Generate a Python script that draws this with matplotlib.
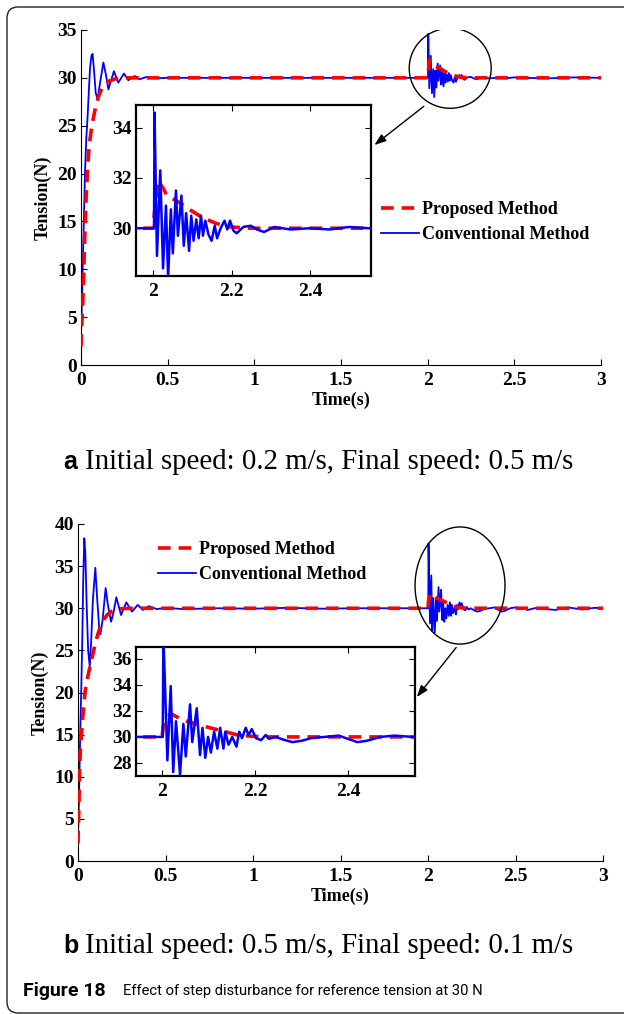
import matplotlib
matplotlib.use('Agg')
from matplotlib import pyplot as plt
from matplotlib import patches
from matplotlib.ticker import FuncFormatter

# ---- (a) initial speed 0.2 m/s, final speed 0.5 m/s ----
t_prop_a = [0, 0.005, 0.013, 0.02, 0.029, 0.038, 0.048, 0.06, 0.071, 0.085, 0.1, 0.12,
            0.14, 0.167, 0.2, 0.24, 0.3, 2.0, 2.003, 2.012, 2.025, 2.035, 2.069, 2.099,
            2.128, 2.163, 2.197, 2.25, 3.0]
y_prop_a = [1.9, 4.5, 7.8, 12.5, 17.2, 20.5, 23.1, 24.6, 25.8, 27.0, 28.0, 28.9,
            29.4, 29.7, 29.9, 30.0, 30.0, 30.0, 30.6, 31.9, 31.6, 31.3, 31.0, 30.68,
            30.4, 30.18, 30.05, 30.0, 30.0]

t_conv_a = [0, 0.005, 0.01, 0.017, 0.023, 0.03, 0.037, 0.045, 0.052, 0.06, 0.067, 0.075,
            0.085, 0.096, 0.11, 0.129, 0.143, 0.158, 0.175, 0.19, 0.215, 0.248, 0.273,
            0.31, 0.337, 0.379, 0.42, 0.5, 1.0, 1.5, 2.0,
            2.002, 2.0034, 2.0095, 2.018, 2.025, 2.0325, 2.038, 2.045, 2.05, 2.058, 2.063,
            2.072, 2.078, 2.084, 2.0915, 2.097, 2.103, 2.11, 2.116, 2.122, 2.127, 2.133,
            2.141, 2.149, 2.157, 2.163, 2.172, 2.182, 2.189, 2.196, 2.205, 2.213, 2.23,
            2.249, 2.265, 2.283, 2.309, 2.35, 2.4, 2.45, 2.5, 2.55, 2.7, 2.85, 3.0]
y_conv_a = [3.0, 6.5, 10.3, 15.5, 20.0, 23.5, 25.6, 28.5, 31.0, 32.3, 32.5, 30.8,
            28.4, 27.8, 29.5, 31.6, 30.4, 28.8, 29.8, 30.7, 29.5, 30.45, 29.75,
            30.2, 29.85, 30.1, 29.95, 30.0, 30.0, 30.0, 30.0,
            30.0, 34.6, 28.9, 32.3, 28.4, 30.9, 28.0, 30.75, 29.0, 31.5, 29.7,
            31.3, 29.3, 30.6, 29.1, 30.5, 29.5, 30.35, 29.6, 30.5, 29.7, 30.3,
            29.75, 29.5, 30.1, 29.6, 30.0, 30.3, 29.95, 30.3, 29.9, 29.8, 30.05,
            30.1, 29.95, 29.85, 30.05, 29.95, 30.0, 29.95, 30.05, 30.0, 29.95, 30.05, 30.0]

# ---- (b) initial speed 0.5 m/s, final speed 0.1 m/s ----
t_prop_b = [0, 0.005, 0.0095, 0.015, 0.023, 0.032, 0.042, 0.055, 0.067, 0.083, 0.099,
            0.113, 0.128, 0.145, 0.166, 0.19, 0.213, 0.25, 0.3, 2.0, 2.003, 2.018,
            2.044, 2.072, 2.103, 2.136, 2.162, 2.192, 2.23, 3.0]
y_prop_b = [2.1, 6.5, 11.2, 13.8, 15.9, 18.3, 20.3, 21.8, 22.9, 24.4, 25.8,
            26.9, 27.8, 28.6, 29.2, 29.6, 29.8, 29.95, 30.0, 30.0, 30.9, 31.8,
            31.3, 31.0, 30.7, 30.4, 30.15, 30.05, 30.0, 30.0]

t_conv_b = [0, 0.004, 0.008, 0.013, 0.019, 0.025, 0.03, 0.036, 0.042, 0.05, 0.058, 0.067,
            0.075, 0.085, 0.099, 0.11, 0.12, 0.128, 0.14, 0.158, 0.17, 0.189, 0.203,
            0.219, 0.246, 0.276, 0.309, 0.341, 0.371, 0.404, 0.45, 0.5, 0.6, 0.8, 1.0,
            1.2, 1.4, 1.6, 1.8, 2.0,
            2.0015, 2.003, 2.0115, 2.0187, 2.024, 2.03, 2.0387, 2.0458, 2.051, 2.0602,
            2.065, 2.0746, 2.0817, 2.087, 2.093, 2.099, 2.105, 2.112, 2.119, 2.125,
            2.132, 2.136, 2.143, 2.151, 2.16, 2.166, 2.172, 2.18, 2.186, 2.193, 2.202,
            2.213, 2.223, 2.23, 2.244, 2.26, 2.28, 2.3, 2.32, 2.35, 2.38, 2.404, 2.42,
            2.44, 2.47, 2.5, 2.54, 2.57, 2.62, 2.67, 2.73, 2.8, 2.88, 2.95, 3.0]
y_conv_b = [2.9, 6.0, 10.0, 15.5, 20.7, 27.0, 33.5, 38.3, 36.5, 30.0, 25.0, 23.1,
            26.0, 31.0, 34.8, 31.0, 28.0, 26.9, 28.5, 32.4, 30.5, 28.4, 29.5,
            31.3, 29.2, 30.7, 29.6, 30.4, 29.8, 30.25, 29.9, 30.05, 29.9, 30.0, 29.95,
            30.05, 29.95, 30.0, 30.0, 30.0,
            30.0, 37.7, 28.2, 33.9, 27.3, 31.2, 27.1, 31.0, 28.5, 32.5,
            29.6, 32.2, 28.6, 30.7, 28.4, 30.0, 28.8, 30.4, 29.1, 30.7,
            29.1, 30.4, 29.4, 30.0, 29.25, 30.4, 29.9, 30.7, 30.15, 30.6, 29.9,
            29.75, 30.15, 29.85, 30.0, 29.8, 29.6, 29.7, 29.9, 30.0, 30.1, 29.8, 29.6,
            29.7, 30.0, 30.1, 30.0, 29.8, 30.05, 29.9, 29.8, 30.1, 29.85, 30.05, 30.0]

labels = ['Proposed Method', 'Conventional Method']
captions = ['Initial speed: 0.2 m/s, Final speed: 0.5 m/s',
            'Initial speed: 0.5 m/s, Final speed: 0.1 m/s']

W, H = 624, 1014
plt.rcParams['font.family'] = 'Liberation Serif'
plt.rcParams['font.weight'] = 'bold'
plt.rcParams['axes.labelweight'] = 'bold'
fmt = FuncFormatter(lambda v, p: '%g' % v)


def rect(l, t, r, b):
    # pixel box -> figure fractions
    return [l / W, 1 - b / H, (r - l) / W, (b - t) / H]


def panel(fig, main_box, inset_box, tp, yp, tc, yc, ymax, inset_lim, inset_yt,
          ell, arrow, leg_xy):
    ax = fig.add_axes(rect(*main_box))
    lc, = ax.plot(tc, yc, color='blue', lw=1.3, zorder=2)
    lp, = ax.plot(tp, yp, color='red', lw=2.6, ls=(0, (3.5, 2.2)), zorder=3)
    ax.set_xlim(0, 3)
    ax.set_ylim(0, ymax)
    ax.set_xticks([0, 0.5, 1, 1.5, 2, 2.5, 3])
    ax.set_yticks(range(0, ymax + 1, 5))
    ax.xaxis.set_major_formatter(fmt)
    ax.spines[['top', 'right']].set_visible(False)
    ax.tick_params(direction='in', length=4, labelsize=14)
    ax.tick_params(axis='x', pad=5)
    ax.tick_params(axis='y', pad=3)
    ax.set_xlabel('Time(s)', fontsize=13, labelpad=2)
    ax.set_ylabel('Tension(N)', fontsize=13, labelpad=4)
    ax.add_patch(patches.Ellipse(ell[0], ell[1], ell[2], fill=False, lw=1, color='black', zorder=4))
    ax.annotate('', xy=arrow[1], xytext=arrow[0],
                arrowprops=dict(arrowstyle='-|>,head_length=0.7,head_width=0.25',
                                color='black', lw=1))
    ax.legend([lp, lc], labels, loc='upper left', bbox_to_anchor=(leg_xy[0] / W, 1 - leg_xy[1] / H),
              bbox_transform=fig.transFigure, frameon=False, fontsize=13, handlelength=2.1,
              handletextpad=0.15, labelspacing=0.45, borderpad=0, borderaxespad=0)

    ins = fig.add_axes(rect(*inset_box))
    ins.plot(tp, yp, color='red', lw=2.6, ls=(0, (3.5, 2.2)), zorder=2)
    ins.plot(tc, yc, color='blue', lw=1.8, zorder=3)
    ins.set_xlim(inset_lim[0], inset_lim[1])
    ins.set_ylim(inset_lim[2], inset_lim[3])
    ins.set_xticks([2, 2.2, 2.4])
    ins.set_yticks(inset_yt)
    ins.xaxis.set_major_formatter(fmt)
    ins.tick_params(direction='in', length=4, labelsize=14, top=True, right=True)
    ins.tick_params(axis='x', pad=5)
    ins.tick_params(axis='y', pad=3)
    for s in ins.spines.values():
        s.set_linewidth(1.6)


fig = plt.figure(figsize=(W / 100, H / 100), dpi=100)

panel(fig, (81, 30, 601, 365), (136, 105, 371, 276), t_prop_a, y_prop_a, t_conv_a, y_conv_a, 35,
      (1.956, 2.556, 28.1, 34.9), [30, 32, 34],
      ((2.13, 31.0), 0.473, 8.36), ((1.99, 27.2), (1.68, 22.8)), (381, 201))
panel(fig, (78, 524, 603, 861), (136, 647, 415, 776), t_prop_b, y_prop_b, t_conv_b, y_conv_b, 40,
      (1.944, 2.544, 27.0, 36.9), [28, 30, 32, 34, 36],
      ((2.183, 32.7), 0.514, 13.9), ((2.171, 25.6), (1.926, 19.2)), (158, 541))

for (letter, cap, y) in [('a', captions[0], 462), ('b', captions[1], 946)]:
    fig.text(63 / W, 1 - y / H, letter, family='Liberation Sans', weight='bold',
             fontsize=18, va='center')
    fig.text(85 / W, 1 - y / H, cap, weight='normal', fontsize=20.8, va='center')

fig.text(23 / W, 1 - 991 / H, 'Figure 18', family=['Roboto', 'DejaVu Sans'],
         weight='bold', fontsize=14, va='center')
fig.text(123 / W, 1 - 991 / H, 'Effect of step disturbance for reference tension at 30 N',
         family=['Roboto', 'DejaVu Sans'], weight='normal', fontsize=10.6, va='center')

border = patches.FancyBboxPatch((7, 1), 700, 1006, boxstyle='round,pad=0,rounding_size=11',
                                transform=None, fill=False, lw=1, edgecolor='#222222')
fig.add_artist(border)

fig.savefig('out.png', dpi=100)
